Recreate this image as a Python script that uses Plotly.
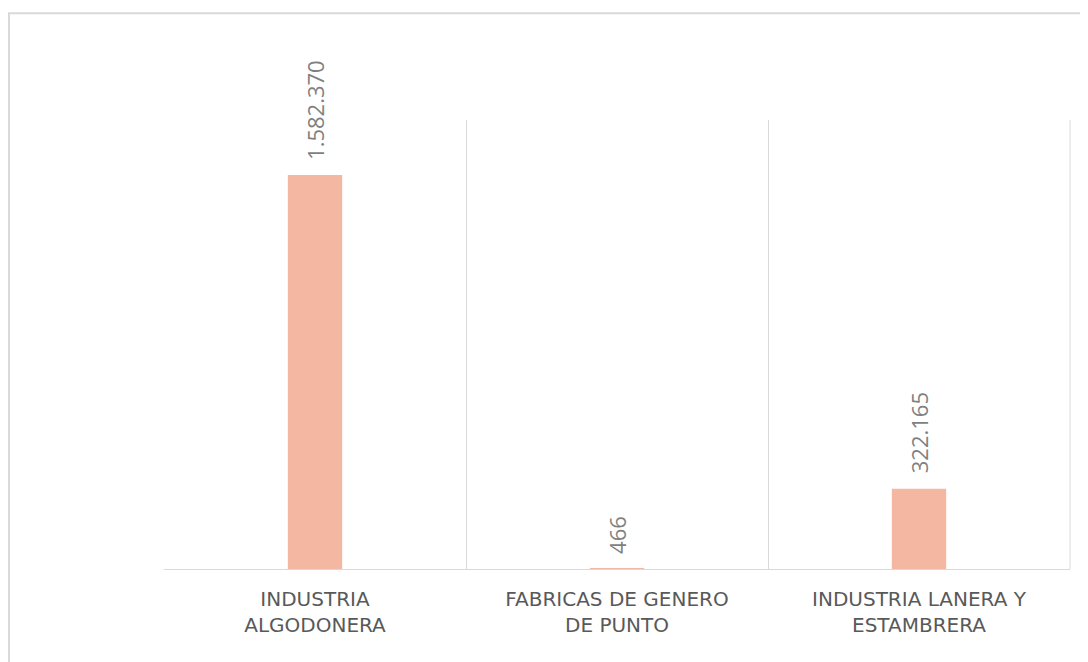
import plotly.graph_objects as go

categories = ["INDUSTRIA<br>ALGODONERA", "FABRICAS DE GENERO<br>DE PUNTO", "INDUSTRIA LANERA Y<br>ESTAMBRERA"]
values = [1582370, 466, 322165]
value_labels = ["1.582.370", "466", "322.165"]

fig = go.Figure()
fig.add_trace(go.Bar(
    x=categories, y=values, width=0.18,
    marker=dict(color="#F4B8A2", line=dict(width=0)),
    hoverinfo="skip",
))

for c, v, t in zip(categories, values, value_labels):
    fig.add_annotation(x=c, y=v, text=t, textangle=-90, showarrow=False,
                       yanchor="bottom", xanchor="center", yshift=13,
                       font=dict(family="Open Sans", size=22, color="#7f7f7f"))

# outer frame
fig.add_shape(type="rect", xref="paper", yref="paper",
              x0=(1 - 156) / 906, x1=1.2, y0=-0.5, y1=1.238,
              line=dict(color="#d9d9d9", width=2), layer="below")
# right boundary line
fig.add_shape(type="line", xref="paper", yref="paper", x0=1, x1=1, y0=0, y1=1,
              line=dict(color="#d9d9d9", width=1), layer="below")

fig.update_layout(
    width=1080, height=654,
    margin=dict(l=156, r=18, t=112, b=93),
    paper_bgcolor="white", plot_bgcolor="white",
    showlegend=False,
    xaxis=dict(tickson="boundaries", showgrid=True, gridcolor="#d9d9d9", gridwidth=1,
               showline=True, linecolor="#d9d9d9", linewidth=1, ticks="",
               ticklabelstandoff=12,
               tickfont=dict(family="DejaVu Sans", size=20, color="#595959"),
               range=[-0.5, 2.5]),
    yaxis=dict(range=[0, 1803000], showgrid=False, showticklabels=False,
               zeroline=False, showline=False, ticks=""),
)

fig.write_html("out.html")
